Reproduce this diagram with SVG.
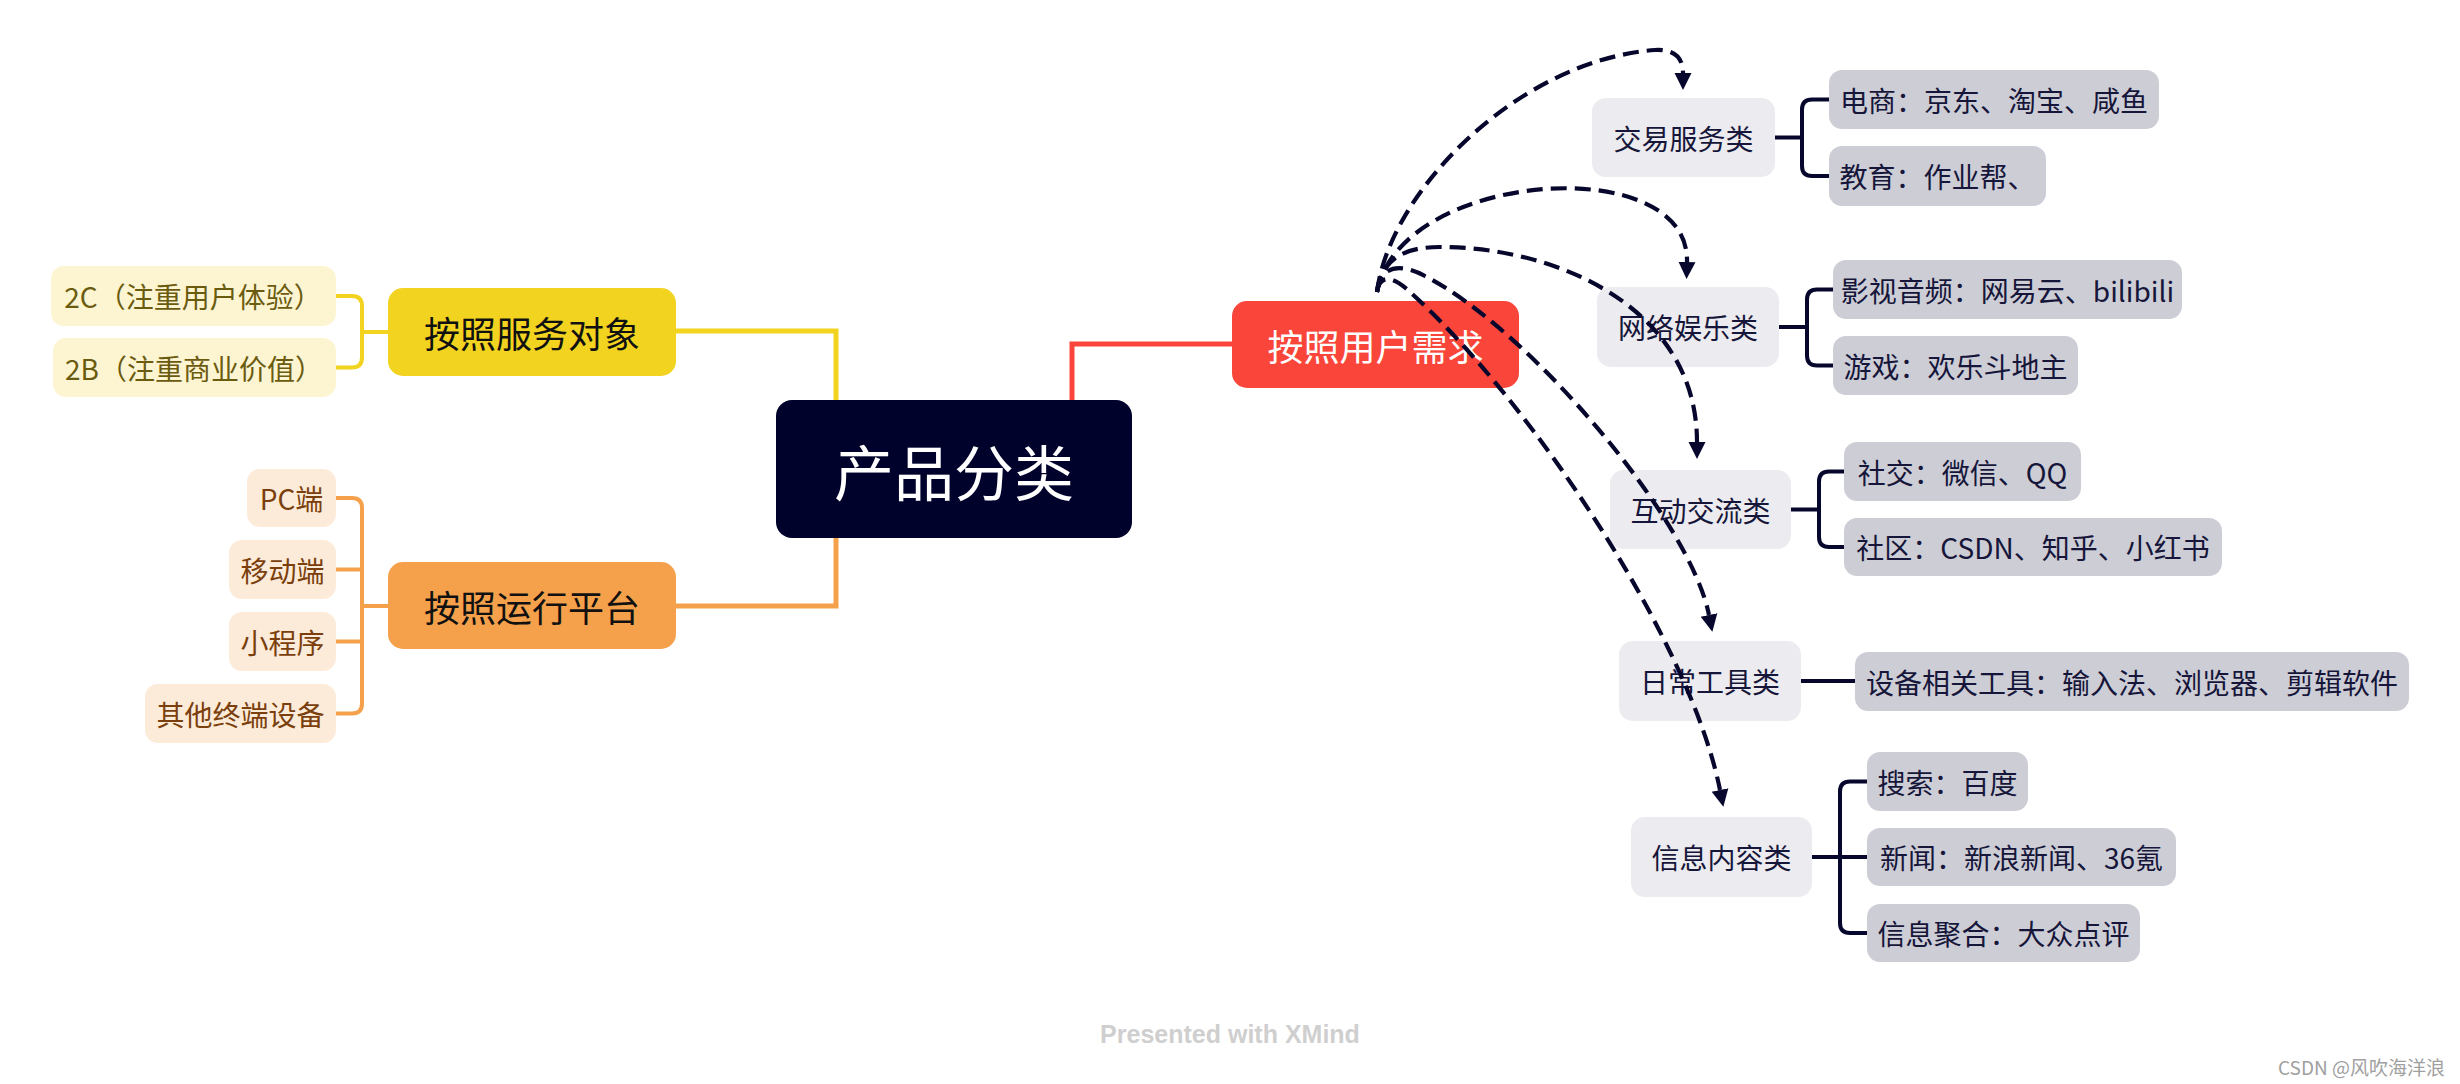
<svg xmlns="http://www.w3.org/2000/svg" width="2460" height="1084" viewBox="0 0 2460 1084">
<defs>
<style>
text{font-family:"Noto Sans CJK SC","Noto Sans",sans-serif;text-anchor:middle;dominant-baseline:central}
.t28{font-size:28px}
.t36{font-size:36px}
.cat{fill:#ECEBEF}
.leaf{fill:#CDCDD6}
.dk{fill:#16163A}
.br{fill:none;stroke:#07072D;stroke-width:4}
.dash{fill:none;stroke:#07072D;stroke-width:4.2;stroke-dasharray:16 8}
.yl{fill:none;stroke:#F2D31F;stroke-width:4}
.or{fill:none;stroke:#F5A04A;stroke-width:4}
</style>
<marker id="ah" markerUnits="userSpaceOnUse" markerWidth="18" markerHeight="18" refX="0" refY="8.5" orient="auto" viewBox="0 0 18 17">
<path d="M0,0 L17,8.5 L0,17 z" fill="#07072D"/>
</marker>
</defs>
<rect width="2460" height="1084" fill="#FFFFFF"/>

<g id="main-lines">
<path d="M676,331 H836 V402" fill="none" stroke="#F2D31F" stroke-width="5"/>
<path d="M676,606 H836 V536" fill="none" stroke="#F5A04A" stroke-width="5"/>
<path d="M1072,402 V344 H1234" fill="none" stroke="#F9453A" stroke-width="5"/>
</g>

<g id="sub-lines">
<path class="yl" d="M388,332 H362 M336,296 H352 Q362,296 362,306 V357.5 Q362,367.5 352,367.5 H336"/>
<path class="or" d="M388,606 H362 M336,498 H352 Q362,498 362,508 V703.5 Q362,713.5 352,713.5 H336 M336,569.5 H362 M336,641.5 H362"/>
<path class="br" d="M1775,137.5 H1802 M1829,99.5 H1812 Q1802,99.5 1802,109.5 V166 Q1802,176 1812,176 H1829"/>
<path class="br" d="M1779,327 H1807 M1833,289.5 H1817 Q1807,289.5 1807,299.5 V355.5 Q1807,365.5 1817,365.5 H1833"/>
<path class="br" d="M1791,509.5 H1819 M1844,471.5 H1829 Q1819,471.5 1819,481.5 V537 Q1819,547 1829,547 H1844"/>
<path class="br" d="M1801,681 H1855"/>
<path class="br" d="M1812,857 H1867 M1867,781.5 H1850 Q1840,781.5 1840,791.5 V923 Q1840,933 1850,933 H1867"/>
</g>

<g id="node-root">
<rect x="776" y="400" width="356" height="138" rx="16" fill="#01022B"/>
<text x="954" y="469" style="font-size:60px" fill="#FFFFFF">产品分类</text>
</g>

<g id="node-service">
<rect x="388" y="288" width="288" height="88" rx="15" fill="#F2D31F"/>
<text class="t36" x="532" y="332" fill="#111111">按照服务对象</text>
</g>
<g id="node-2c">
<rect x="51" y="266" width="285" height="60" rx="13" fill="#FDF5D2"/>
<text class="t28" x="193" y="296" fill="#6B5B0F">2C（注重用户体验）</text>
</g>
<g id="node-2b">
<rect x="53" y="338" width="283" height="59" rx="13" fill="#FDF5D2"/>
<text class="t28" x="194" y="367.5" fill="#6B5B0F">2B（注重商业价值）</text>
</g>

<g id="node-platform">
<rect x="388" y="562" width="288" height="87" rx="15" fill="#F5A04A"/>
<text class="t36" x="532" y="605.5" fill="#111111">按照运行平台</text>
</g>
<g id="node-pc">
<rect x="247" y="469" width="89" height="58" rx="13" fill="#FDEBD9"/>
<text class="t28" x="291.5" y="498" fill="#7A3F0C">PC端</text>
</g>
<g id="node-mobile">
<rect x="229" y="540" width="107" height="59" rx="13" fill="#FDEBD9"/>
<text class="t28" x="282.5" y="569.5" fill="#7A3F0C">移动端</text>
</g>
<g id="node-mini">
<rect x="229" y="612" width="107" height="59" rx="13" fill="#FDEBD9"/>
<text class="t28" x="282.5" y="641.5" fill="#7A3F0C">小程序</text>
</g>
<g id="node-other">
<rect x="145" y="684" width="191" height="59" rx="13" fill="#FDEBD9"/>
<text class="t28" x="240.5" y="713.5" fill="#7A3F0C">其他终端设备</text>
</g>

<g id="node-user">
<rect x="1232" y="301" width="287" height="87" rx="15" fill="#F9453A"/>
<text class="t36" x="1375.5" y="344.5" fill="#FFFFFF">按照用户需求</text>
</g>

<g id="node-trade">
<rect class="cat" x="1592" y="98" width="183" height="79" rx="14"/>
<text class="t28 dk" x="1683.5" y="137.5">交易服务类</text>
</g>
<g id="node-ecom">
<rect class="leaf" x="1829" y="70" width="330" height="59" rx="13"/>
<text class="t28 dk" x="1994" y="99.5">电商：京东、淘宝、咸鱼</text>
</g>
<g id="node-edu">
<rect class="leaf" x="1829" y="146" width="217" height="60" rx="13"/>
<text class="t28 dk" x="1937.5" y="176">教育：作业帮、</text>
</g>

<g id="node-ent">
<rect class="cat" x="1597" y="287" width="182" height="80" rx="14"/>
<text class="t28 dk" x="1688" y="327">网络娱乐类</text>
</g>
<g id="node-video">
<rect class="leaf" x="1833" y="260" width="349" height="59" rx="13"/>
<text class="t28 dk" x="2007.5" y="289.5">影视音频：网易云、bilibili</text>
</g>
<g id="node-game">
<rect class="leaf" x="1833" y="336" width="245" height="59" rx="13"/>
<text class="t28 dk" x="1955.5" y="365.5">游戏：欢乐斗地主</text>
</g>

<g id="node-social">
<rect class="cat" x="1610" y="470" width="181" height="79" rx="14"/>
<text class="t28 dk" x="1700.5" y="509.5">互动交流类</text>
</g>
<g id="node-sns">
<rect class="leaf" x="1844" y="442" width="237" height="59" rx="13"/>
<text class="t28 dk" x="1962.5" y="471.5">社交：微信、QQ</text>
</g>
<g id="node-community">
<rect class="leaf" x="1844" y="518" width="378" height="58" rx="13"/>
<text class="t28 dk" x="2033" y="547">社区：CSDN、知乎、小红书</text>
</g>

<g id="node-tool">
<rect class="cat" x="1619" y="641" width="182" height="80" rx="14"/>
<text class="t28 dk" x="1710" y="681">日常工具类</text>
</g>
<g id="node-device">
<rect class="leaf" x="1855" y="652" width="554" height="59" rx="13"/>
<text class="t28 dk" x="2132" y="681.5">设备相关工具：输入法、浏览器、剪辑软件</text>
</g>

<g id="node-info">
<rect class="cat" x="1631" y="817" width="181" height="80" rx="14"/>
<text class="t28 dk" x="1721.5" y="857">信息内容类</text>
</g>
<g id="node-search">
<rect class="leaf" x="1867" y="752" width="161" height="59" rx="13"/>
<text class="t28 dk" x="1947.5" y="781.5">搜索：百度</text>
</g>
<g id="node-news">
<rect class="leaf" x="1867" y="828" width="309" height="58" rx="13"/>
<text class="t28 dk" x="2021.5" y="857">新闻：新浪新闻、36氪</text>
</g>
<g id="node-agg">
<rect class="leaf" x="1867" y="904" width="273" height="58" rx="13"/>
<text class="t28 dk" x="2003.5" y="933">信息聚合：大众点评</text>
</g>

<g id="connectors">
<path class="dash" marker-end="url(#ah)" d="M1377,292 C1390,190 1520,60 1655,50 C1675,49 1683,58 1683,73"/>
<path class="dash" marker-end="url(#ah)" d="M1377,292 C1400,170 1690,150 1687,262"/>
<path class="dash" marker-end="url(#ah)" d="M1377,292 C1382,255 1410,247 1440,247 C1560,247 1697,310 1697,442"/>
<path class="dash" marker-end="url(#ah)" d="M1377,292 C1380,262 1405,265 1425,276 C1530,330 1690,520 1709,615"/>
<path class="dash" marker-end="url(#ah)" d="M1377,292 C1380,272 1395,278 1410,292 C1530,400 1690,640 1720,790"/>
</g>

<g id="watermarks">
<text x="1230" y="1034" style="font-family:'Liberation Sans',sans-serif;font-size:25px;font-weight:bold" fill="#CFCFCF">Presented with XMind</text>
<text x="2445" y="1066" style="font-size:19px;text-anchor:end" fill="#A0A0A0">CSDN @风吹海洋浪</text>
</g>
</svg>
